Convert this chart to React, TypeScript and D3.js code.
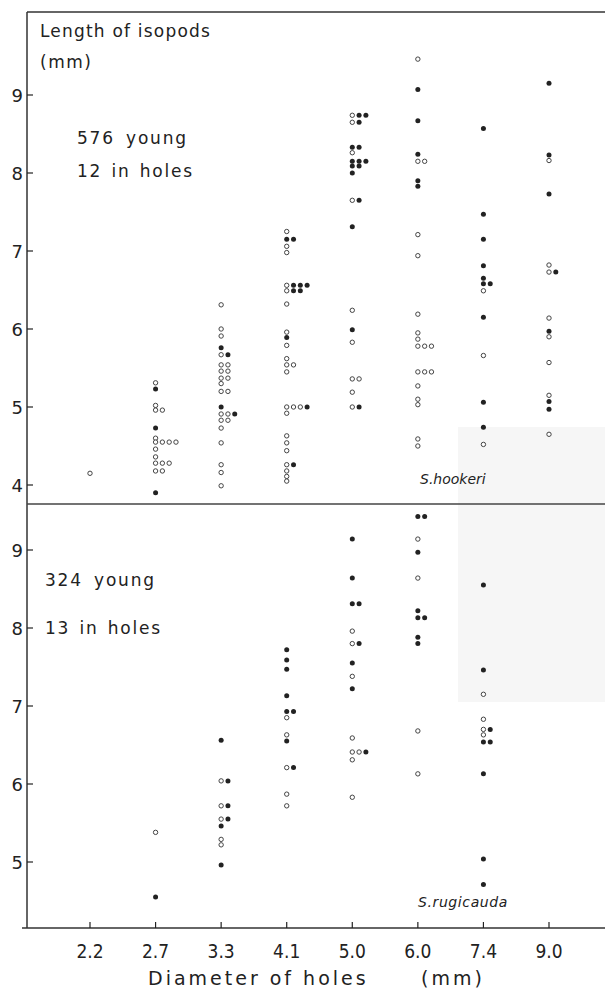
import React from 'react';
import * as d3 from 'd3';

// Diameter of holes (mm), one column of marks per hole size
const HOLE_SIZES = ['2.2', '2.7', '3.3', '4.1', '5.0', '6.0', '7.4', '9.0'];
const TOP_TICKS = [4, 5, 6, 7, 8, 9];
const BOTTOM_TICKS = [5, 6, 7, 8, 9];

// Each row: [length of isopod in mm, marks from left to right]
// 'o' = open circle, '•' = filled circle
type Row = [number, string];

// S. hookeri (576 young, 12 in holes)
const HOOKERI_2_2: Row[] = [[4.15, 'o']];
const HOOKERI_2_7: Row[] = [
  [5.31, 'o'], [5.23, '•'], [5.02, 'o'], [4.96, 'oo'], [4.73, '•'], [4.60, 'o'],
  [4.55, 'oooo'], [4.46, 'o'], [4.36, 'o'], [4.28, 'ooo'], [4.18, 'oo'], [3.90, '•']
];
const HOOKERI_3_3: Row[] = [
  [6.31, 'o'], [6.00, 'o'], [5.91, 'o'], [5.76, '•'], [5.67, 'o•'], [5.54, 'oo'],
  [5.46, 'oo'], [5.37, 'oo'], [5.30, 'o'], [5.20, 'oo'], [5.00, '•'], [4.91, 'oo•'],
  [4.83, 'oo'], [4.73, 'o'], [4.54, 'o'], [4.26, 'o'], [4.16, 'o'], [3.99, 'o']
];
const HOOKERI_4_1: Row[] = [
  [7.25, 'o'], [7.15, '••'], [7.06, 'o'], [6.98, 'o'], [6.56, 'o•••'], [6.49, 'o••'],
  [6.32, 'o'], [5.96, 'o'], [5.89, '•'], [5.79, 'o'], [5.62, 'o'], [5.54, 'oo'],
  [5.45, 'o'], [5.00, 'ooo•'], [4.92, 'o'], [4.63, 'o'], [4.54, 'o'], [4.44, 'o'],
  [4.26, 'o•'], [4.18, 'o'], [4.11, 'o'], [4.05, 'o']
];
const HOOKERI_5_0: Row[] = [
  [8.74, 'o••'], [8.65, 'o•'], [8.33, '••'], [8.26, 'o'], [8.15, '•••'], [8.09, '••'],
  [8.00, '•'], [7.65, 'o•'], [7.31, '•'], [6.24, 'o'], [5.99, '•'], [5.83, 'o'],
  [5.36, 'oo'], [5.19, 'o'], [5.00, 'o•']
];
const HOOKERI_6_0: Row[] = [
  [9.46, 'o'], [9.07, '•'], [8.67, '•'], [8.24, '•'], [8.15, 'oo'], [7.90, '•'],
  [7.83, '•'], [7.21, 'o'], [6.94, 'o'], [6.19, 'o'], [5.95, 'o'], [5.87, 'o'],
  [5.78, 'ooo'], [5.45, 'ooo'], [5.27, 'o'], [5.10, 'o'], [5.03, 'o'], [4.59, 'o'],
  [4.50, 'o']
];
const HOOKERI_7_4: Row[] = [
  [8.57, '•'], [7.47, '•'], [7.15, '•'], [6.81, '•'], [6.65, '•'], [6.58, '••'],
  [6.49, 'o'], [6.15, '•'], [5.66, 'o'], [5.06, '•'], [4.74, '•'], [4.52, 'o']
];
const HOOKERI_9_0: Row[] = [
  [9.15, '•'], [8.23, '•'], [8.16, 'o'], [7.73, '•'], [6.82, 'o'], [6.73, 'o•'],
  [6.14, 'o'], [5.97, '•'], [5.90, 'o'], [5.57, 'o'], [5.15, 'o'], [5.07, '•'],
  [4.97, '•'], [4.65, 'o']
];

// S. rugicauda (324 young, 13 in holes)
const RUGICAUDA_2_2: Row[] = [];
const RUGICAUDA_2_7: Row[] = [[5.38, 'o'], [4.55, '•']];
const RUGICAUDA_3_3: Row[] = [
  [6.56, '•'], [6.04, 'o•'], [5.72, 'o•'], [5.55, 'o•'], [5.46, '•'], [5.29, 'o'],
  [5.22, 'o'], [4.96, '•']
];
const RUGICAUDA_4_1: Row[] = [
  [7.72, '•'], [7.59, '•'], [7.47, '•'], [7.13, '•'], [6.93, '••'], [6.85, 'o'],
  [6.63, 'o'], [6.55, '•'], [6.21, 'o•'], [5.87, 'o'], [5.72, 'o']
];
const RUGICAUDA_5_0: Row[] = [
  [9.14, '•'], [8.64, '•'], [8.31, '••'], [7.96, 'o'], [7.80, 'o•'], [7.55, '•'],
  [7.38, 'o'], [7.22, '•'], [6.59, 'o'], [6.41, 'oo•'], [6.31, 'o'], [5.83, 'o']
];
const RUGICAUDA_6_0: Row[] = [
  [9.43, '••'], [9.14, 'o'], [8.97, '•'], [8.64, 'o'], [8.22, '•'], [8.13, '••'],
  [7.88, '•'], [7.80, '•'], [6.68, 'o'], [6.13, 'o']
];
const RUGICAUDA_7_4: Row[] = [
  [8.55, '•'], [7.46, '•'], [7.15, 'o'], [6.83, 'o'], [6.70, 'o•'], [6.63, 'o'],
  [6.54, '••'], [6.13, '•'], [5.04, '•'], [4.71, '•']
];
const RUGICAUDA_9_0: Row[] = [];

const HOOKERI = [HOOKERI_2_2, HOOKERI_2_7, HOOKERI_3_3, HOOKERI_4_1, HOOKERI_5_0, HOOKERI_6_0, HOOKERI_7_4, HOOKERI_9_0];
const RUGICAUDA = [RUGICAUDA_2_2, RUGICAUDA_2_7, RUGICAUDA_3_3, RUGICAUDA_4_1, RUGICAUDA_5_0, RUGICAUDA_6_0, RUGICAUDA_7_4, RUGICAUDA_9_0];

const W = 605;
const H = 988;
const AXIS_X = 27;
const TOP = 12;
const DIVIDER = 504;
const BASE = 928;
const STEP = 6.8; // gap between marks of the same length
const INK = '#222';
const FONT = "'DejaVu Sans', sans-serif";
const FONT_NARROW = "'DejaVu Sans Condensed', 'DejaVu Sans', sans-serif";

const x = d3.scalePoint<string>().domain(HOLE_SIZES).range([90, 549]);
const yTop = d3.scaleLinear().domain([4, 9]).range([485, 95]);
const yBottom = d3.scaleLinear().domain([5, 9]).range([862, 550]);

function Marks({ columns, y }: { columns: Row[][]; y: d3.ScaleLinear<number, number> }) {
  const marks: React.ReactNode[] = [];
  columns.forEach((rows, i) => {
    const x0 = x(HOLE_SIZES[i]) as number;
    rows.forEach(([v, kinds], r) => {
      Array.from(kinds).forEach((k, j) => {
        const cx = x0 + j * STEP;
        const cy = y(v);
        marks.push(
          k === 'o'
            ? <circle key={`${i}-${r}-${j}`} cx={cx} cy={cy} r={2.2} fill='white' stroke='#444' strokeWidth={1} />
            : <circle key={`${i}-${r}-${j}`} cx={cx} cy={cy} r={2.5} fill={INK} />
        );
      });
    });
  });
  return <g>{marks}</g>;
}

function YAxis({ ticks, y }: { ticks: number[]; y: d3.ScaleLinear<number, number> }) {
  return (
    <g>
      {ticks.map(t => (
        <g key={t}>
          <line x1={AXIS_X} x2={AXIS_X + 6} y1={y(t)} y2={y(t)} stroke={INK} strokeWidth={1.2} />
          <text x={23} y={y(t)} textAnchor='end' dominantBaseline='central'
            fontFamily={FONT} fontSize={18} fill={INK}>{t}</text>
        </g>
      ))}
    </g>
  );
}

export default function App() {
  return (
    <div style={{ position: 'absolute', left: 0, top: 0 }}>
      <svg width={W} height={H} style={{ display: 'block', background: 'white' }}>
        {/* faint scanner shading on the right */}
        <rect x={458} y={427} width={W - 458} height={275} fill='#f6f6f6' />

        {/* frame */}
        <line x1={AXIS_X} x2={W} y1={TOP} y2={TOP} stroke='#333' strokeWidth={1.5} />
        <line x1={AXIS_X} x2={AXIS_X} y1={TOP} y2={BASE} stroke='#333' strokeWidth={1.5} />
        <line x1={AXIS_X} x2={W} y1={DIVIDER} y2={DIVIDER} stroke='#444' strokeWidth={1.5} />
        <line x1={22} x2={W} y1={BASE} y2={BASE} stroke='#333' strokeWidth={1.5} />

        <YAxis ticks={TOP_TICKS} y={yTop} />
        <YAxis ticks={BOTTOM_TICKS} y={yBottom} />

        {/* x axis */}
        {HOLE_SIZES.map(s => (
          <g key={s}>
            <line x1={x(s)} x2={x(s)} y1={BASE} y2={BASE - 6} stroke={INK} strokeWidth={1.2} />
            <text x={x(s)} y={951} textAnchor='middle' dominantBaseline='central'
              fontFamily={FONT_NARROW} fontSize={19} fill={INK}>{s}</text>
          </g>
        ))}
        <text x={148} y={985} fontFamily={FONT} fontSize={19} letterSpacing={3} fill={INK}>Diameter of holes</text>
        <text x={421} y={985} fontFamily={FONT} fontSize={19} letterSpacing={3} fill={INK}>(mm)</text>

        {/* annotations */}
        <text x={40} y={37} fontFamily={FONT} fontSize={17} letterSpacing={1.2} fill={INK}>Length of isopods</text>
        <text x={40} y={68} fontFamily={FONT} fontSize={17} letterSpacing={1.5} fill={INK}>(mm)</text>
        <text x={77} y={144} fontFamily={FONT} fontSize={17} letterSpacing={1.8} wordSpacing={4} fill={INK}>576 young</text>
        <text x={77} y={177} fontFamily={FONT} fontSize={17} letterSpacing={1.8} wordSpacing={2} fill={INK}>12 in holes</text>
        <text x={45} y={586} fontFamily={FONT} fontSize={17} letterSpacing={1.8} wordSpacing={4} fill={INK}>324 young</text>
        <text x={45} y={634} fontFamily={FONT} fontSize={17} letterSpacing={1.8} wordSpacing={2} fill={INK}>13 in holes</text>
        <text x={420} y={484} fontFamily={FONT} fontSize={14} fontStyle='italic' fill={INK}>S.hookeri</text>
        <text x={418} y={907} fontFamily={FONT} fontSize={14} fontStyle='italic' letterSpacing={0.6} fill={INK}>S.rugicauda</text>

        <Marks columns={HOOKERI} y={yTop} />
        <Marks columns={RUGICAUDA} y={yBottom} />
      </svg>
    </div>
  );
}
